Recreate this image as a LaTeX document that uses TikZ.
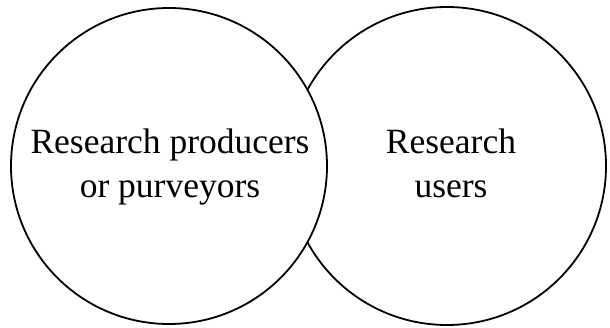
\documentclass[tikz,border=0pt]{standalone}
\usepackage{fontspec}
\setmainfont{Liberation Serif}
\begin{document}
\begin{tikzpicture}[x=1pt,y=1pt,
  ring/.style={draw=black, line width=1.8pt, fill=white},
  label/.style={align=center, font=\fontsize{35.5}{43}\selectfont, inner sep=0pt}]
\useasboundingbox (0,0) rectangle (610,327);
\draw[ring] (447,161) circle[radius=159];
\draw[ring] (169,161) circle[radius=158];
\node[label, anchor=base] (prod) at (170,173) {Research producers};
\node[label, anchor=base] (prod2) at (170,130) {or purveyors};
\node[label, anchor=base] (user) at (451,173) {Research};
\node[label, anchor=base] (user2) at (451,130) {users};
\end{tikzpicture}
\end{document}
